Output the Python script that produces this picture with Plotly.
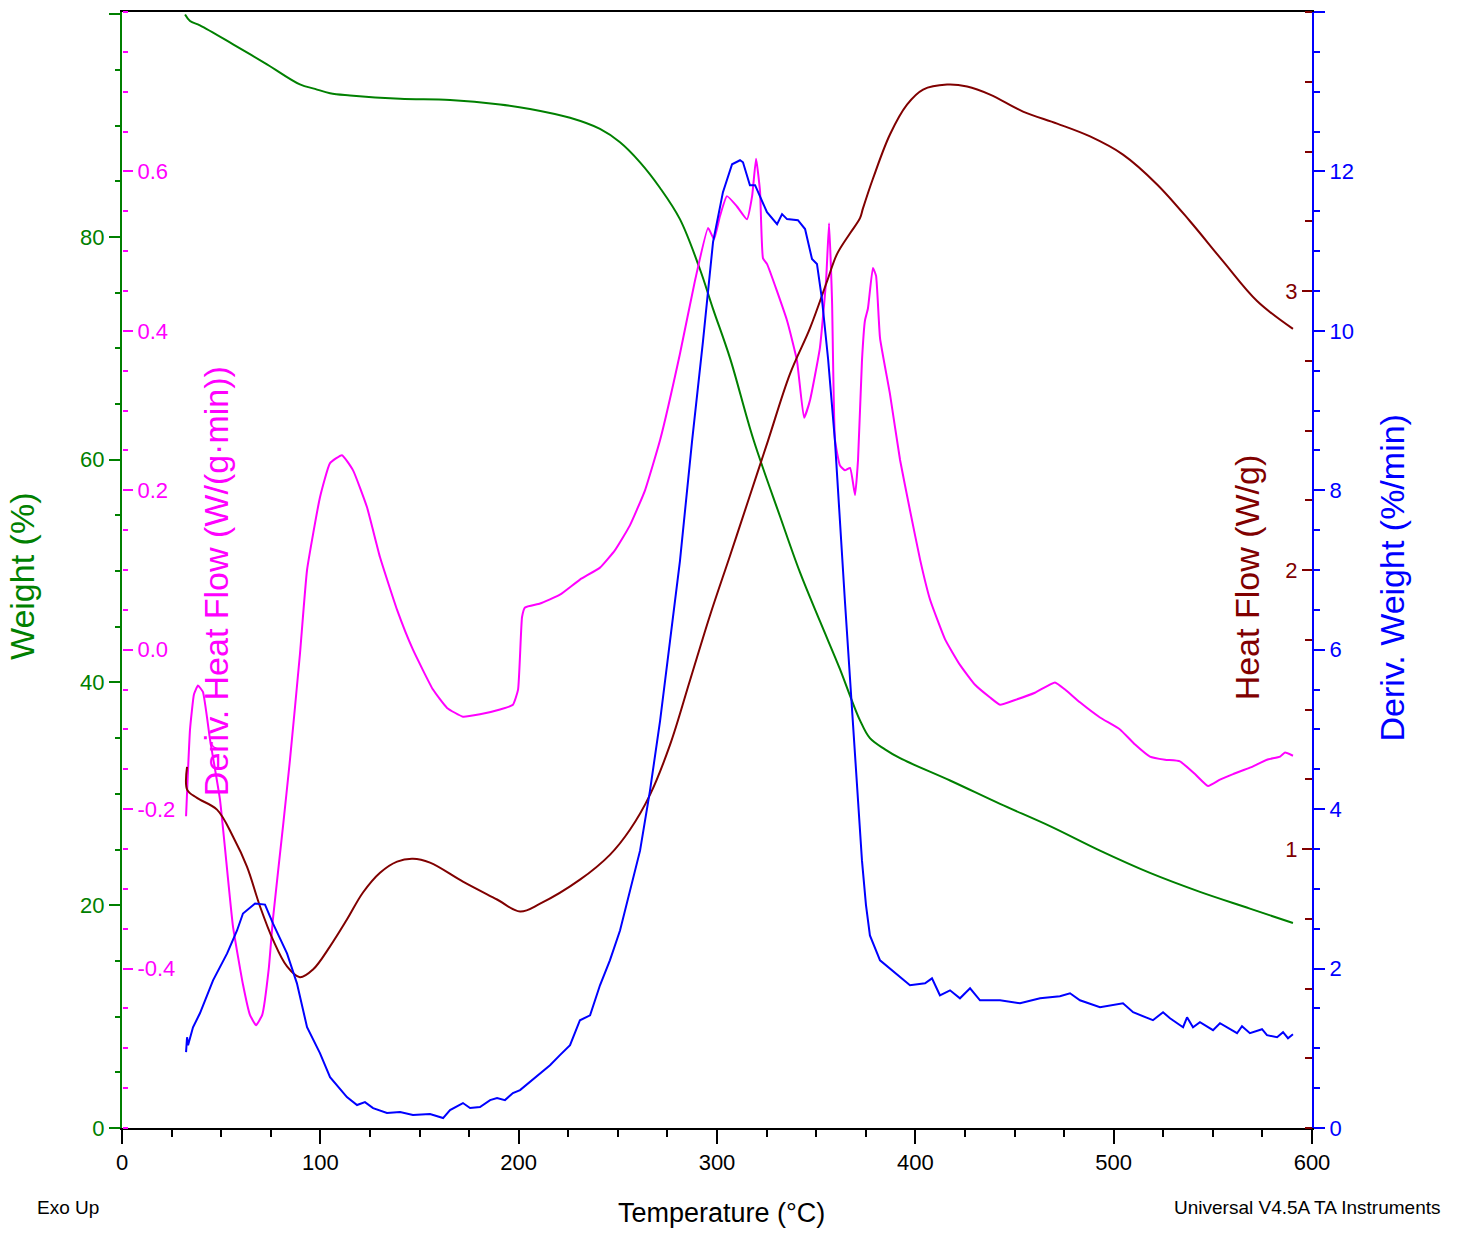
import plotly.graph_objects as go

# ---------------- data ----------------
# Weight (%) vs temperature (°C)
wt_temp = [31.8, 34.3, 39.3, 56.0, 73.1, 89.7, 97.3, 104.9, 115.0, 140.2, 165.4, 190.6,
           205.7, 225.9, 241.0, 251.1, 261.2, 271.3, 281.3, 291.4, 298.0, 306.6, 318.2,
           331.8, 341.8, 351.9, 362.0, 367.1, 372.1, 377.1, 384.7, 392.3, 417.5, 442.7,
           467.9, 493.1, 518.3, 543.5, 568.7, 590.4]
wt_val = [99.98, 99.4, 99.0, 97.3, 95.5, 93.7, 93.3, 92.9, 92.7, 92.4, 92.3, 91.9,
          91.5, 90.7, 89.7, 88.5, 86.7, 84.4, 81.6, 77.1, 73.55, 69.1, 61.9,
          54.9, 49.9, 45.5, 41.2, 38.8, 36.6, 35.0, 34.0, 33.2, 31.2, 29.1,
          27.1, 24.9, 22.9, 21.2, 19.7, 18.4]

# Deriv. Heat Flow (W/(g·min))
dhf_temp = [32.3, 33.3, 34.3, 36.3, 38.3, 40.8, 44.4, 49.4, 55.9, 61.0, 64.5, 67.6, 70.7,
            74.0, 76.1, 81.2, 84.7, 89.7, 93.3, 99.8, 104.9, 110.9, 116.5, 123.5, 130.1,
            138.7, 146.7, 156.8, 163.9, 171.9, 180.5, 190.6, 197.1, 199.7, 201.7, 203.2,
            210.8, 220.8, 230.9, 241.0, 248.6, 256.1, 263.7, 271.3, 281.3, 288.9, 295.5,
            298.5, 301.5, 305.0, 310.1, 315.1, 317.7, 319.7, 321.7, 323.2, 325.2, 335.3,
            340.3, 343.9, 346.9, 351.9, 355.0, 356.5, 358.0, 359.5, 362.0, 364.5, 367.1,
            369.6, 371.1, 373.1, 374.6, 376.1, 378.6, 380.2, 382.2, 387.2, 392.3, 397.3,
            402.4, 407.4, 415.0, 422.5, 430.1, 437.7, 442.7, 450.3, 460.3, 470.4, 475.5,
            483.0, 493.1, 503.2, 510.8, 518.3, 525.9, 533.4, 541.0, 547.6, 553.6, 560.2,
            568.7, 577.3, 583.9, 586.4, 590.4]
dhf_val = [-0.209, -0.150, -0.100, -0.056, -0.045, -0.053, -0.113, -0.188, -0.346, -0.420,
           -0.458, -0.471, -0.458, -0.400, -0.338, -0.221, -0.138, -0.006, 0.100, 0.191,
           0.234, 0.244, 0.225, 0.179, 0.116, 0.050, 0.000, -0.050, -0.073, -0.084, -0.081,
           -0.075, -0.069, -0.050, 0.041, 0.053, 0.058, 0.069, 0.088, 0.103, 0.125, 0.156,
           0.200, 0.263, 0.371, 0.463, 0.529, 0.515, 0.544, 0.569, 0.556, 0.540, 0.569,
           0.616, 0.575, 0.491, 0.484, 0.413, 0.363, 0.291, 0.313, 0.379, 0.463, 0.535,
           0.438, 0.263, 0.231, 0.225, 0.228, 0.194, 0.238, 0.363, 0.413, 0.428, 0.479,
           0.469, 0.391, 0.321, 0.238, 0.175, 0.113, 0.063, 0.013, -0.019, -0.044, -0.060,
           -0.069, -0.063, -0.054, -0.041, -0.050, -0.066, -0.085, -0.100, -0.119, -0.134,
           -0.138, -0.140, -0.156, -0.171, -0.163, -0.156, -0.148, -0.138, -0.134, -0.129,
           -0.133]

# Heat Flow (W/g)
hf_temp = [32.8, 32.9, 37.8, 47.9, 56.0, 63.0, 69.6, 76.1, 83.2, 89.7, 96.3, 104.9, 113.4,
           121.5, 130.1, 138.7, 146.7, 155.3, 171.9, 189.1, 200.7, 210.8, 230.9, 246.1,
           256.1, 266.2, 276.3, 286.4, 296.5, 306.6, 316.6, 325.7, 336.8, 346.9, 355.5,
           360.5, 367.1, 372.1, 373.6, 378.7, 387.2, 395.8, 403.9, 416.0, 426.1, 437.7,
           454.3, 471.5, 488.1, 504.7, 521.9, 538.5, 555.1, 572.3, 590.4]
hf_val = [1.294, 1.212, 1.183, 1.141, 1.044, 0.937, 0.794, 0.675, 0.579, 0.540, 0.568,
          0.651, 0.747, 0.844, 0.915, 0.955, 0.965, 0.951, 0.883, 0.819, 0.776, 0.804,
          0.890, 0.980, 1.069, 1.194, 1.373, 1.605, 1.838, 2.052, 2.267, 2.463, 2.703,
          2.867, 3.035, 3.132, 3.207, 3.261, 3.296, 3.404, 3.561, 3.668, 3.722, 3.740,
          3.733, 3.704, 3.643, 3.600, 3.554, 3.489, 3.382, 3.250, 3.107, 2.964, 2.864]

# Deriv. Weight (%/min)
dw_temp = [32.3, 32.8, 33.3, 35.8, 39.3, 45.9, 53.0, 58.0, 61.0, 67.1, 72.1, 76.1, 83.2,
           88.2, 93.3, 99.8, 104.9, 113.4, 118.5, 122.5, 126.6, 133.6, 140.2, 146.7,
           155.3, 161.9, 165.4, 171.9, 175.5, 180.5, 185.6, 189.1, 193.1, 197.1, 200.7,
           205.7, 210.8, 215.8, 220.8, 225.9, 230.9, 236.0, 241.0, 246.0, 251.1, 256.1,
           261.2, 266.2, 271.3, 276.3, 281.3, 287.4, 292.9, 298.0, 303.0, 307.6, 311.6,
           313.1, 316.6, 319.2, 325.2, 330.3, 332.8, 335.3, 340.8, 344.4, 347.9, 350.4,
           352.9, 356.0, 359.5, 364.5, 369.6, 373.1, 375.1, 377.1, 382.2, 389.7, 397.3,
           404.9, 408.4, 412.4, 417.5, 422.5, 427.6, 432.6, 442.7, 452.8, 462.9, 472.9,
           478.0, 483.0, 493.1, 504.7, 509.8, 519.8, 524.9, 528.4, 535.0, 537.0, 540.0,
           543.5, 550.1, 553.6, 562.2, 564.7, 568.7, 574.8, 577.3, 582.4, 585.4, 587.9,
           590.4]
dw_val = [0.951, 1.139, 1.039, 1.264, 1.439, 1.852, 2.190, 2.478, 2.691, 2.816, 2.803,
          2.566, 2.190, 1.815, 1.264, 0.939, 0.638, 0.388, 0.288, 0.325, 0.250, 0.188,
          0.200, 0.163, 0.175, 0.125, 0.225, 0.313, 0.250, 0.263, 0.350, 0.375, 0.350,
          0.438, 0.476, 0.576, 0.688, 0.788, 0.914, 1.039, 1.352, 1.414, 1.790, 2.103,
          2.478, 2.979, 3.479, 4.230, 5.106, 6.108, 7.109, 8.611, 9.862, 11.114, 11.740,
          12.090, 12.140, 12.115, 11.827, 11.827, 11.489, 11.339, 11.464, 11.402, 11.389,
          11.277, 10.901, 10.839, 10.401, 9.650, 8.611, 6.608, 4.731, 3.354, 2.800, 2.416,
          2.103, 1.952, 1.790, 1.815, 1.877, 1.665, 1.727, 1.627, 1.752, 1.602, 1.602,
          1.564, 1.627, 1.652, 1.690, 1.602, 1.514, 1.564, 1.452, 1.352, 1.452, 1.377,
          1.264, 1.389, 1.264, 1.327, 1.227, 1.314, 1.189, 1.277, 1.189, 1.239, 1.164,
          1.139, 1.202, 1.126, 1.176]

x_ticks = [0, 100, 200, 300, 400, 500, 600]
wt_ticks = [0, 20, 40, 60, 80, 100]
wt_ticktext = ["0", "20", "40", "60", "80", ""]
dhf_ticks = [-0.4, -0.2, 0.0, 0.2, 0.4, 0.6]
hf_ticks = [1, 2, 3]
dw_ticks = [0, 2, 4, 6, 8, 10, 12, 14]
dw_ticktext = ["0", "2", "4", "6", "8", "10", "12", ""]

# ---------------- styling ----------------
GREEN = "#008000"
PINK = "#ff00ff"
BROWN = "#800000"
BLUE = "#0000ff"
SANS = "Liberation Sans, Arial, sans-serif"
TICK_SIZE = 22

fig = go.Figure()
fig.add_trace(go.Scatter(x=wt_temp, y=wt_val, mode="lines", yaxis="y",
                         line=dict(color=GREEN, width=2, shape="spline", smoothing=1.0)))
fig.add_trace(go.Scatter(x=hf_temp, y=hf_val, mode="lines", yaxis="y3",
                         line=dict(color=BROWN, width=2, shape="spline", smoothing=1.0)))
fig.add_trace(go.Scatter(x=dhf_temp, y=dhf_val, mode="lines", yaxis="y2",
                         line=dict(color=PINK, width=2, shape="spline", smoothing=0.4)))
fig.add_trace(go.Scatter(x=dw_temp, y=dw_val, mode="lines", yaxis="y4",
                         line=dict(color=BLUE, width=2)))

fig.update_layout(
    width=1462, height=1237,
    margin=dict(l=122, r=150, t=10, b=109),
    plot_bgcolor="white", paper_bgcolor="white",
    showlegend=False,
    xaxis=dict(range=[0, 600], domain=[0, 1], showgrid=False, zeroline=False,
               showline=True, linecolor="black", linewidth=2, mirror=True,
               ticks="outside", ticklen=14, tickwidth=2, tickcolor="black",
               tickmode="array", tickvals=x_ticks,
               minor=dict(ticks="outside", tickmode="linear", tick0=0, dtick=25,
                          ticklen=7, tickwidth=2, tickcolor="black"),
               tickfont=dict(family=SANS, size=TICK_SIZE, color="black")),
    yaxis=dict(range=[0, 100.2], showgrid=False, zeroline=False,
               showline=True, linecolor=GREEN, linewidth=2,
               ticks="outside", ticklen=11, tickwidth=2, tickcolor=GREEN,
               tickmode="array", tickvals=wt_ticks, ticktext=wt_ticktext,
               minor=dict(ticks="outside", tickmode="linear", tick0=0, dtick=5,
                          ticklen=5, tickwidth=2, tickcolor=GREEN),
               tickfont=dict(family=SANS, size=TICK_SIZE, color=GREEN)),
    yaxis2=dict(range=[-0.6, 0.8], overlaying="y", side="right", anchor="free", position=0,
                showgrid=False, zeroline=False, showline=False,
                ticks="outside", ticklen=10, tickwidth=2, tickcolor=PINK,
                tickmode="array", tickvals=dhf_ticks,
                ticktext=[f"{v:.1f}" for v in dhf_ticks],
                minor=dict(ticks="outside", tickmode="linear", tick0=0, dtick=0.05,
                           ticklen=5, tickwidth=2, tickcolor=PINK),
                tickfont=dict(family=SANS, size=TICK_SIZE, color=PINK)),
    yaxis3=dict(range=[0, 4], overlaying="y", side="left", anchor="free", position=1,
                showgrid=False, zeroline=False, showline=False,
                ticks="outside", ticklen=10, tickwidth=2, tickcolor=BROWN,
                tickmode="array", tickvals=hf_ticks,
                minor=dict(ticks="outside", tickmode="linear", tick0=0, dtick=0.25,
                           ticklen=7, tickwidth=2, tickcolor=BROWN),
                tickfont=dict(family=SANS, size=TICK_SIZE, color=BROWN)),
    yaxis4=dict(range=[0, 14], overlaying="y", side="right", anchor="x",
                showgrid=False, zeroline=False,
                showline=True, linecolor=BLUE, linewidth=2,
                ticks="outside", ticklen=11, tickwidth=2, tickcolor=BLUE,
                tickmode="array", tickvals=dw_ticks, ticktext=dw_ticktext,
                minor=dict(ticks="outside", tickmode="linear", tick0=0, dtick=0.5,
                           ticklen=6, tickwidth=2, tickcolor=BLUE),
                tickfont=dict(family=SANS, size=TICK_SIZE, color=BLUE)),
)

TITLE_SIZE = 34
annos = [
    dict(text="Weight (%)", x=-0.084, y=0.4946, color=GREEN, angle=-90, size=TITLE_SIZE, xa="center"),
    dict(text="Deriv. Heat Flow (W/(g·min))", x=0.079, y=0.490, color=PINK, angle=-90, size=TITLE_SIZE, xa="center"),
    dict(text="Heat Flow (W/g)", x=0.945, y=0.493, color=BROWN, angle=-90, size=TITLE_SIZE, xa="center"),
    dict(text="Deriv. Weight (%/min)", x=1.067, y=0.493, color=BLUE, angle=-90, size=TITLE_SIZE, xa="center"),
    dict(text="Temperature (°C)", x=0.504, y=-0.076, color="black", angle=0, size=27, xa="center"),
    dict(text="Exo Up", x=-0.0731, y=-0.0716, color="black", angle=0, size=19, xa="left"),
    dict(text="Universal V4.5A TA Instruments", x=1.109, y=-0.0716, color="black", angle=0, size=19, xa="right"),
]
for a in annos:
    fig.add_annotation(text=a["text"], xref="paper", yref="paper", x=a["x"], y=a["y"],
                       xanchor=a["xa"], yanchor="middle", textangle=a["angle"],
                       showarrow=False,
                       font=dict(family=SANS, size=a["size"], color=a["color"]))

fig.write_html("out.html")
